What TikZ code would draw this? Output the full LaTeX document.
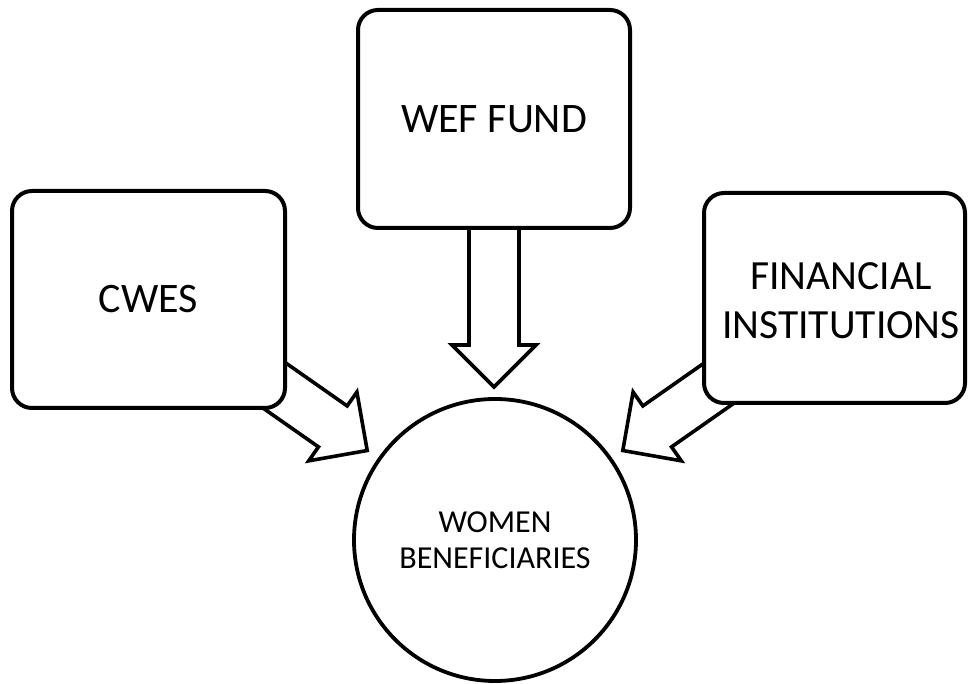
\documentclass[tikz,border=0pt]{standalone}
\usepackage{fontspec}
\setmainfont{Carlito}
\usetikzlibrary{calc}
\pgfdeclarelayer{background}
\pgfsetlayers{background,main}
\tikzset{
  box/.style={draw, line width=4pt, rounded corners=20pt, fill=white, inner sep=0pt, align=center, font=\fontsize{42}{49}\selectfont},
  lbl/.style={inner sep=0pt, align=center, font=\fontsize{41.5}{49}\selectfont},
  bigcircle/.style={draw, circle, line width=3.8pt, fill=white, minimum size=282pt, inner sep=0pt, align=center, font=\fontsize{32}{36}\selectfont},
  blockarr/.pic={\draw[line width=3.6pt, fill=white, line join=miter, miter limit=10] (-200,25) -- (-42,25) -- (-42,42) -- (0,0) -- (-42,-42) -- (-42,-25) -- (-200,-25) -- cycle;}
}
\begin{document}
\begin{tikzpicture}[x=1pt,y=1pt]
\useasboundingbox (0,0) rectangle (968,684);
\node[box, minimum width=272pt, minimum height=218pt] (wef) at (494,565) {WEF FUND};
\node[box, minimum width=273pt, minimum height=217pt] (cwes) at (148.5,384.5) {CWES};
\node[box, minimum width=261pt, minimum height=210pt] (fi) at (834.5,386) {};
\node[lbl] (fitext) at ([xshift=6.5pt,yshift=-2.5pt]fi.center) {FINANCIAL\\INSTITUTIONS};
\node[bigcircle] (women) at (495,144) {WOMEN\\BENEFICIARIES};
\begin{pgfonlayer}{background}
\pic[rotate=-90] (arrwef) at ([yshift=-157pt]wef.south) {blockarr};
\pic[rotate=-35] (arrcwes) at ($(women.center)+(145:156)$) {blockarr};
\pic[rotate=-145] (arrfi) at ($(women.center)+(35:156)$) {blockarr};
\end{pgfonlayer}
\end{tikzpicture}
\end{document}
